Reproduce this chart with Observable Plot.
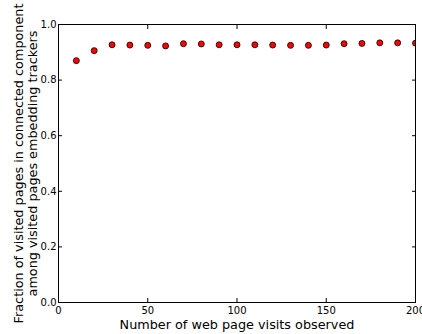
<!DOCTYPE html>
<html>
<head>
<meta charset="utf-8">
<script src="https://cdn.jsdelivr.net/npm/d3@7"></script>
<script src="https://cdn.jsdelivr.net/npm/@observablehq/plot@0.6"></script>
<style>
  html, body { margin: 0; padding: 0; background: #fff; }
  svg { display: block; }
</style>
</head>
<body>
<div id="chart"></div>
<script>
const visits = [10, 20, 30, 40, 50, 60, 70, 80, 90, 100, 110, 120, 130, 140, 150, 160, 170, 180, 190, 200];
const fraction = [0.870, 0.906, 0.927, 0.926, 0.925, 0.923, 0.931, 0.930, 0.927, 0.927, 0.927, 0.926, 0.925, 0.925, 0.926, 0.931, 0.932, 0.934, 0.934, 0.933];
const xTicks = [0, 50, 100, 150, 200];
const yTicks = [0.0, 0.2, 0.4, 0.6, 0.8, 1.0];
const xLabel = "Number of web page visits observed";
const yLabel = "Fraction of visited pages in connected component\namong visited pages embedding trackers";

const data = visits.map((v, i) => ({visits: v, fraction: fraction[i]}));

const chart = Plot.plot({
  width: 422,
  height: 334,
  marginLeft: 58,
  marginRight: 7,
  marginTop: 24,
  marginBottom: 32,
  style: {fontFamily: "DejaVu Sans", fontSize: "10px", color: "#000", background: "#fff"},
  x: {domain: [0, 200]},
  y: {domain: [0, 1]},
  marks: [
    Plot.axisX(xTicks, {anchor: "bottom", tickSize: 0, tickPadding: 4, fontSize: 10, label: null}),
    Plot.axisX(xTicks, {anchor: "bottom", tickSize: -4, text: null, label: null}),
    Plot.axisX(xTicks, {anchor: "top", tickSize: -4, text: null, label: null}),
    Plot.axisY(yTicks, {anchor: "left", tickSize: 0, tickPadding: 2, fontSize: 10, tickFormat: d3.format(".1f"), label: null}),
    Plot.axisY(yTicks, {anchor: "left", tickSize: -4, text: null, label: null}),
    Plot.axisY(yTicks, {anchor: "right", tickSize: -4, text: null, label: null}),
    Plot.dot(data, {x: "visits", y: "fraction", r: 3, fill: "red", stroke: "black", strokeWidth: 0.8, clip: true}),
    Plot.frame({stroke: "black", strokeWidth: 1}),
    Plot.text([xLabel], {frameAnchor: "bottom", dy: 26, fontSize: 12.8, fill: "black", lineAnchor: "bottom", textAnchor: "middle"}),
    Plot.text([yLabel], {frameAnchor: "left", dx: -33, rotate: -90, fontSize: 12.8, lineHeight: 1.14, fill: "black", textAnchor: "middle", lineAnchor: "middle"})
  ]
});
document.getElementById("chart").appendChild(chart);
</script>
</body>
</html>
